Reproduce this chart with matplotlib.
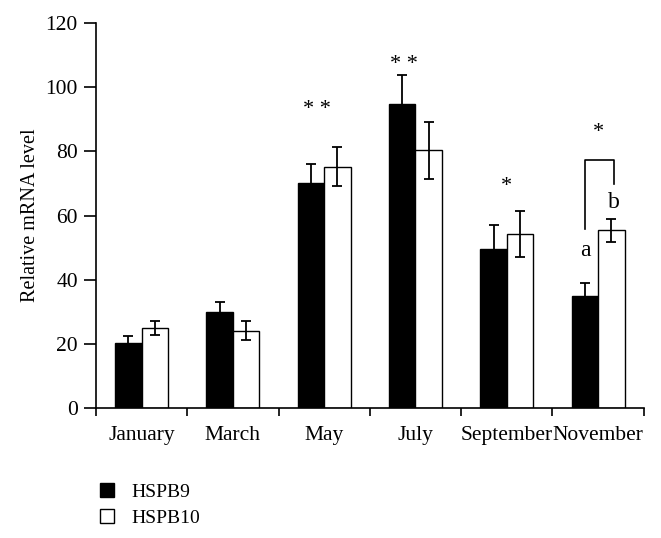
import matplotlib.pyplot as plt
import numpy as np
from matplotlib.patches import Patch

plt.rcParams['font.family'] = ['Liberation Serif', 'DejaVu Serif']

months = ['January', 'March', 'May', 'July', 'September', 'November']
hspb9 = [20.2, 29.8, 70.1, 94.7, 49.7, 34.9]
hspb9_err = [2.2, 3.2, 6.0, 9.2, 7.3, 4.1]
hspb10 = [25.0, 24.1, 75.2, 80.4, 54.2, 55.4]
hspb10_err = [2.1, 3.0, 6.1, 8.9, 7.1, 3.5]

fig = plt.figure(figsize=(6.61, 5.38), dpi=100)
ax = fig.add_axes([0.145, 0.2416, 0.829, 0.7154])

x = np.arange(len(months)) + 0.5
w = 0.29
ax.bar(x - w / 2, hspb9, w, color='black', edgecolor='black', linewidth=1.0)
ax.bar(x + w / 2, hspb10, w, color='white', edgecolor='black', linewidth=1.0)
ax.errorbar(x - w / 2, hspb9, yerr=hspb9_err, fmt='none', ecolor='black',
            elinewidth=1.3, capsize=3.5, capthick=1.3)
ax.errorbar(x + w / 2, hspb10, yerr=hspb10_err, fmt='none', ecolor='black',
            elinewidth=1.3, capsize=3.5, capthick=1.3)

# significance marks
ax.text(x[2] - 0.08, 93, '* *', ha='center', va='center', fontsize=16)
ax.text(x[3] - 0.13, 107, '* *', ha='center', va='center', fontsize=16)
ax.text(x[4], 69, '*', ha='center', va='center', fontsize=16)
ax.text(x[5], 86, '*', ha='center', va='center', fontsize=16)
ax.plot([x[5] - w / 2, x[5] - w / 2, x[5] + w / 2 + 0.03, x[5] + w / 2 + 0.03],
        [55.8, 77.3, 77.3, 69.8], color='black', linewidth=1.2)
ax.text(x[5] - w / 2, 49, 'a', ha='center', va='center', fontsize=17)
ax.text(x[5] + w / 2 + 0.03, 64, 'b', ha='center', va='center', fontsize=17)

ax.set_xlim(0, 6)
ax.set_ylim(0, 120)
ax.set_yticks(range(0, 121, 20))
ax.set_xticks(range(0, 7))
ax.set_xticklabels([])
ax.set_xticks(x, minor=True)
ax.set_xticklabels(months, minor=True, fontsize=15.5)
ax.tick_params(axis='x', which='minor', length=0, pad=13)
ax.tick_params(axis='x', which='major', length=6, width=1.2, direction='out')
ax.tick_params(axis='y', length=9, width=1.2, labelsize=15.5, pad=4)
ax.set_ylabel('Relative mRNA level', fontsize=14.5)
for s in ['top', 'right']:
    ax.spines[s].set_visible(False)
for s in ['left', 'bottom']:
    ax.spines[s].set_linewidth(1.2)

handles = [Patch(facecolor='black', edgecolor='black', label='HSPB9'),
           Patch(facecolor='white', edgecolor='black', label='HSPB10')]
fig.legend(handles=handles, loc='lower left', bbox_to_anchor=(0.125, -0.012),
           frameon=False, fontsize=14, handlelength=0.7, handleheight=0.7,
           handletextpad=0.9, labelspacing=0.45)

fig.savefig('out.png', dpi=100)
